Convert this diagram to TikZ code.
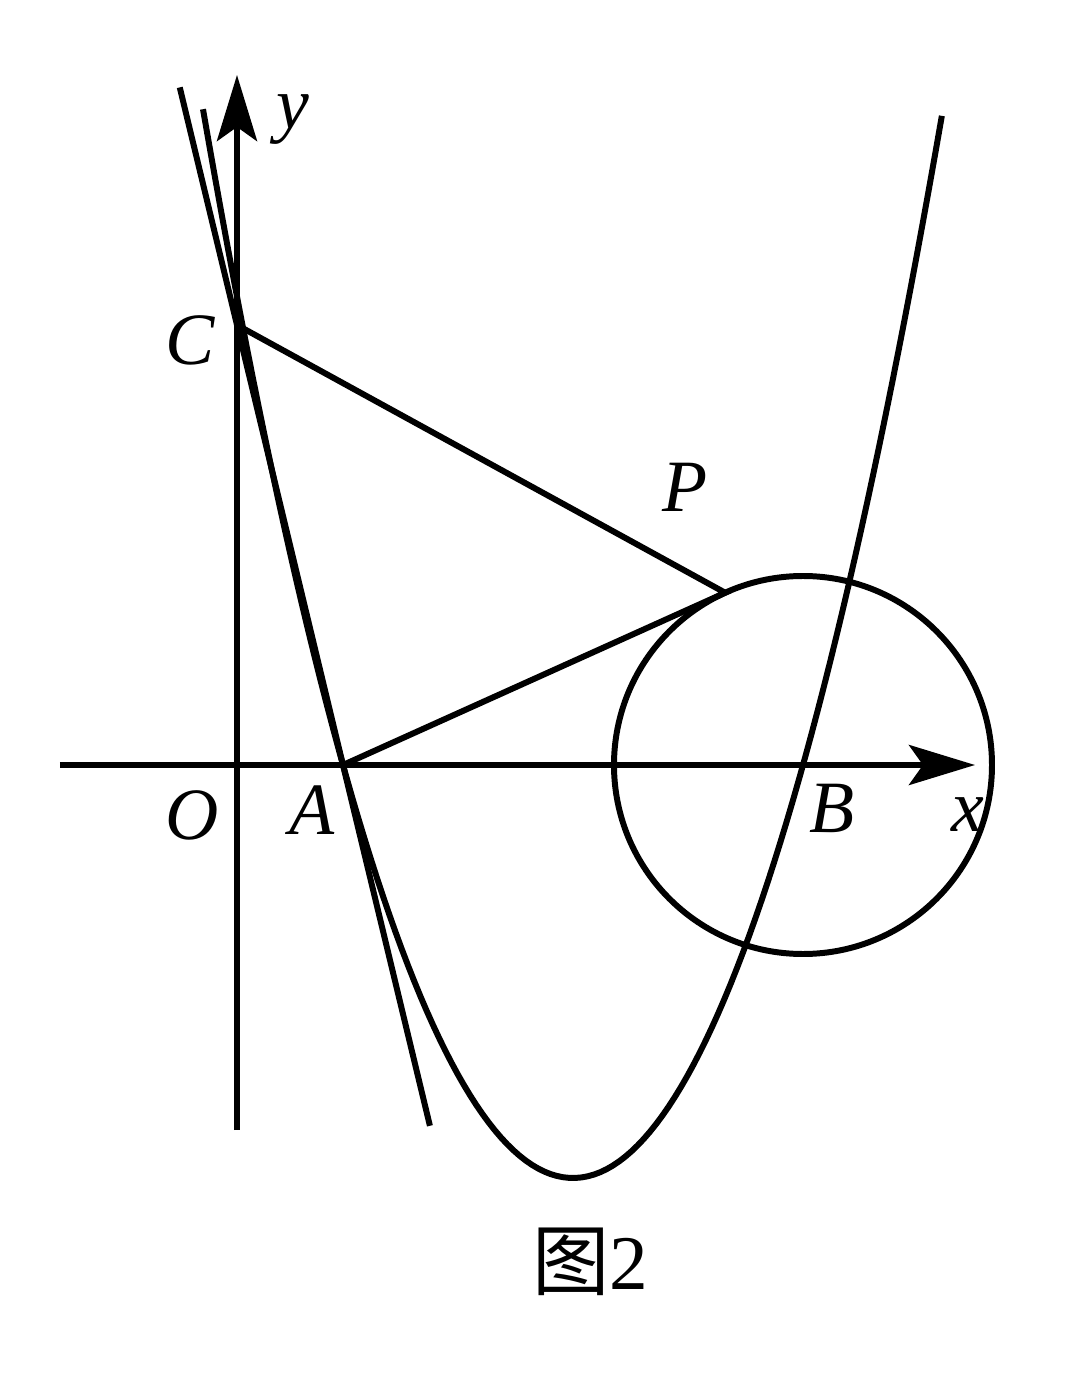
\documentclass[tikz,border=0pt]{standalone}
\usepackage{fontspec}
\setmainfont{Liberation Serif}
\newfontfamily\cjk{Noto Sans CJK SC}
\usetikzlibrary{arrows.meta,calc}

\begin{document}
\begin{tikzpicture}

\tikzset{
  AxisStyle/.style = { line width=1.7pt,
                       -{Stealth[length=6.6mm, width=4mm, inset=1.4mm]} },
  CurveStyle/.style = { line width=1.7pt },
  LabelStyle/.style = { inner sep=0pt,
                       font = \fontsize{21}{21}\selectfont\itshape } }
  \useasboundingbox (-2.37,-6.17) rectangle (8.43,7.65);

  \coordinate (O) at (0,0);
  \coordinate (A) at (1.06,0);
  \coordinate (B) at (5.66,0);
  \coordinate (C) at (0,4.40);
  \coordinate (P) at ([shift={(114.3:1.89)}]B);
  \coordinate (xs) at (-1.77,0);
  \coordinate (xe) at (7.38,0);
  \coordinate (ys) at (0,-3.65);
  \coordinate (ye) at (0,6.90);

  % axes
  \draw[AxisStyle] (xs) -- (xe);
  \draw[AxisStyle] (ys) -- (ye);

  % parabola, line AC and circle
  \draw[CurveStyle, domain=-0.34:7.05, samples=120]
    plot (\x, {0.7807*(\x-1.06)*(\x-5.66)});
  \draw[CurveStyle] ($(A)!-0.82!(C)$) -- ($(A)!1.54!(C)$);
  \draw[CurveStyle] (B) circle (1.89);
  \draw[CurveStyle] (C) -- (P) -- (A);

  \node[LabelStyle] (ly) at (0.56,6.45) {y};
  \node[LabelStyle] (lx) at (7.31,-0.50) {x};
  \node[LabelStyle] (lO) at (-0.45,-0.50) {O};
  \node[LabelStyle] (lA) at (0.75,-0.45) {A};
  \node[LabelStyle] (lB) at (5.95,-0.43) {B};
  \node[LabelStyle] (lC) at (-0.47,4.25) {C};
  \node[LabelStyle] (lP) at (4.48,2.78) {P};
  \node[inner sep=0pt, font=\fontsize{22}{22}\selectfont] (cap) at (3.53,-4.97)
    {{\cjk 图}2};

\end{tikzpicture}
\end{document}
